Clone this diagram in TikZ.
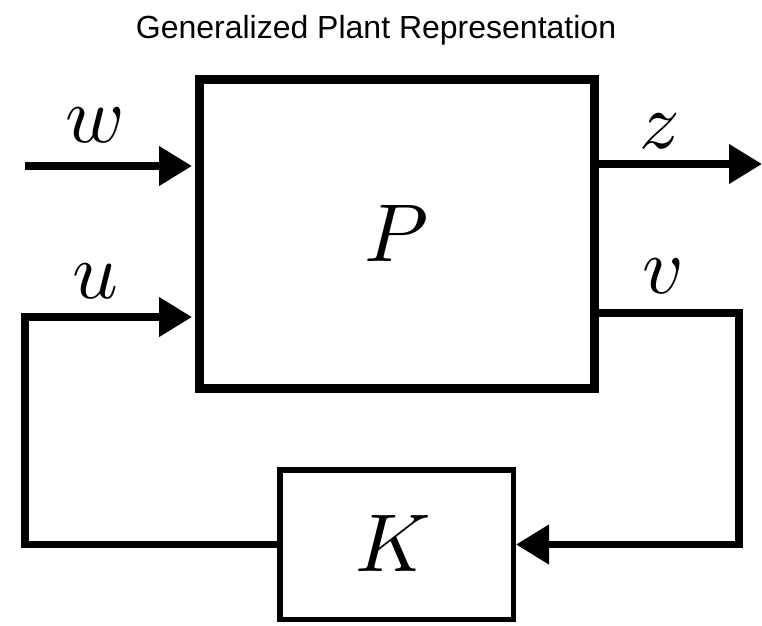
\documentclass[tikz,border=0pt]{standalone}
\usepackage{fontspec}
\newfontfamily\titlefont{Liberation Sans}
\usepackage{tikz}
\usetikzlibrary{arrows.meta,positioning}

\begin{document}
\begin{tikzpicture}[
    x=1pt, y=-1pt,
    plant/.style={draw, line width=9pt, minimum width=395pt, minimum height=309pt, inner sep=0pt},
    ctrl/.style={draw, line width=5.5pt, minimum width=233.5pt, minimum height=149.5pt, inner sep=0pt},
    sig/.style={line width=7.5pt},
    arr/.style={sig, -{Triangle[length=33pt,width=38pt]}},
    lbl/.style={anchor=base, scale=8},
    big/.style={scale=8.2}
  ]
    \useasboundingbox (0,0) rectangle (762,625);

    \node[anchor=base, font=\titlefont\fontsize{32}{38}\selectfont] (title) at (376,38) {Generalized Plant Representation};

    \node[plant] (P) at (397,234) {};
    \node[big] (plbl) at (397,233) {$P$};
    \node[ctrl] (K) at (396.5,544.5) {};
    \node[big] (klbl) at (393,543) {$K$};

    \coordinate (win) at (25,166);
    \coordinate (zout) at (762,164);
    \coordinate (uleft) at (25,317);
    \coordinate (vright) at (739,313);

    \draw[arr, shorten >=3pt] (win) -- (win -| P.west);
    \draw[arr] (P.east |- zout) -- (zout);
    \draw[arr, shorten >=3pt] (K.west) -| (uleft) -- (uleft -| P.west);
    \draw[arr] (P.east |- vright) -- (vright) |- (K.east);

    \node[lbl] (wlbl) at (95,142) {$w$};
    \node[lbl] (zlbl) at (660,148) {$z$};
    \node[lbl] (ulbl) at (95,298) {$u$};
    \node[lbl] (vlbl) at (663,293) {$v$};
  \end{tikzpicture}
\end{document}
